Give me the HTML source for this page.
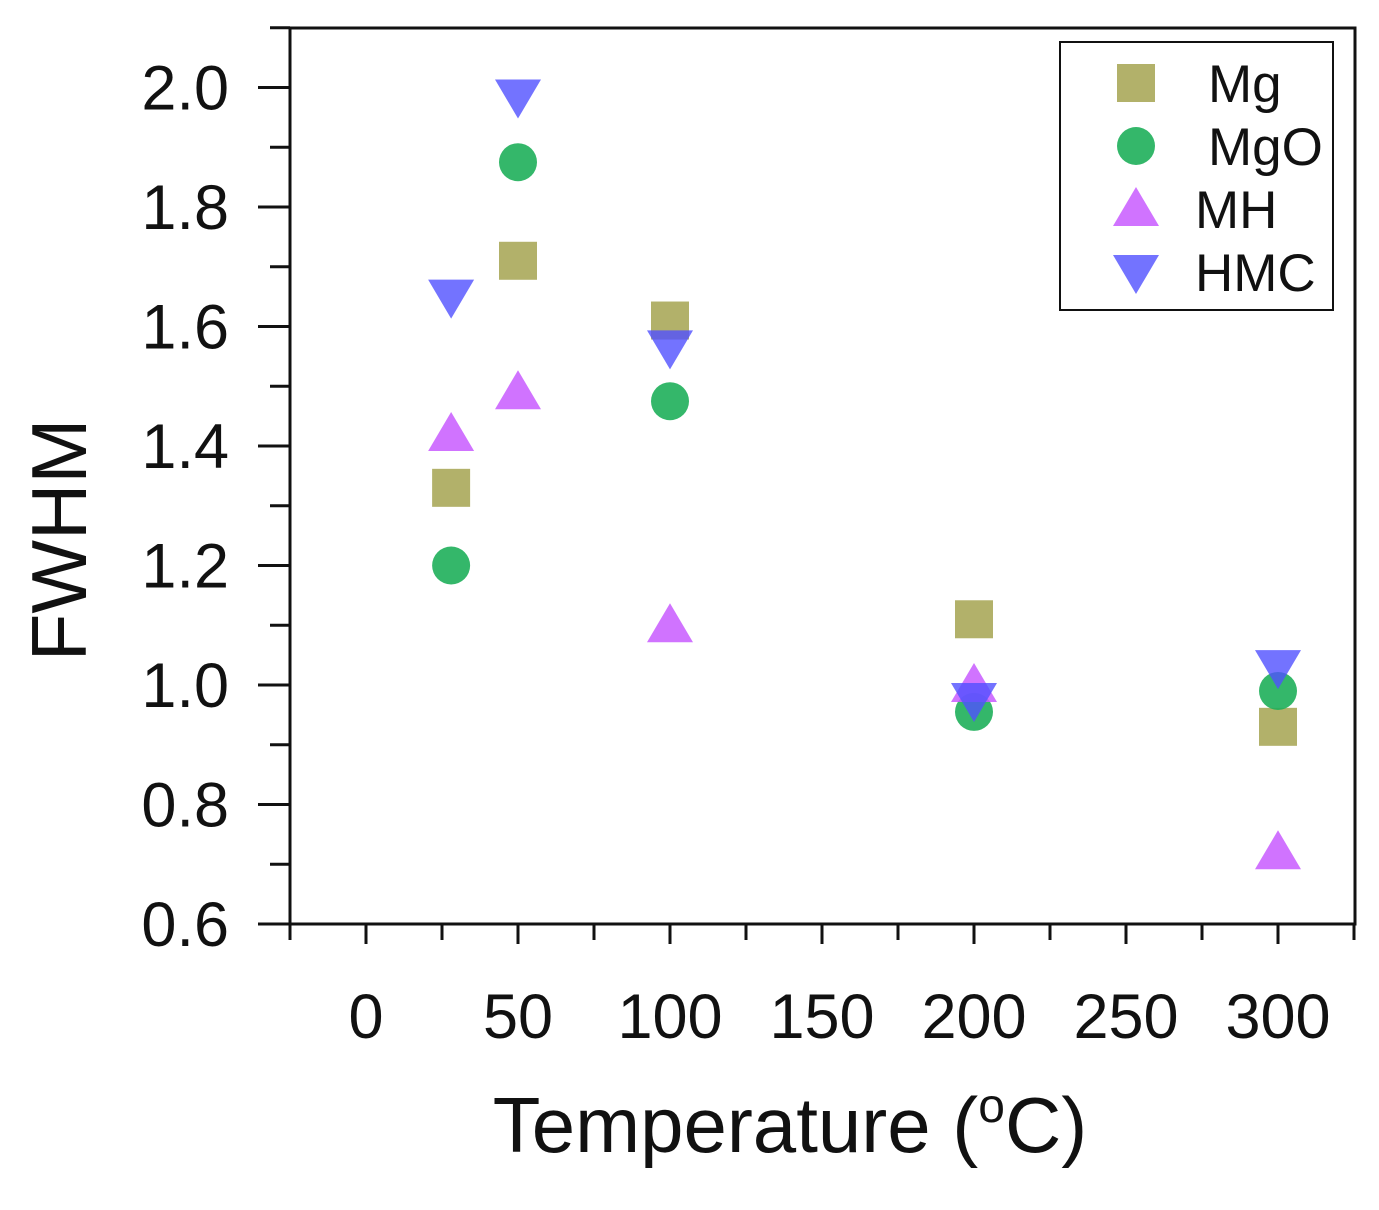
<!DOCTYPE html>
<html><head><meta charset="utf-8"><style>
html,body{margin:0;padding:0;background:#fff;}
svg text{font-family:"Liberation Sans",sans-serif;fill:#111;}
</style></head><body>
<svg id="chart" width="1379" height="1205" viewBox="0 0 1379 1205" xmlns="http://www.w3.org/2000/svg">
<g id="axes"></g><g id="marks"></g><g id="legend"></g>
</svg>
<script>
const temps=[28,50,100,200,300];
const mgVals=[1.33,1.71,1.61,1.11,0.93];
const mgoVals=[1.20,1.875,1.475,0.955,0.99];
const mhVals=[1.42,1.49,1.10,1.00,0.72];
const hmcVals=[1.65,1.985,1.565,0.975,1.03];
const xTicks=[0,50,100,150,200,250,300];
const yTicks=["0.6","0.8","1.0","1.2","1.4","1.6","1.8","2.0"];
const seriesNames=["Mg","MgO","MH","HMC"];

const NS="http://www.w3.org/2000/svg";
const X=v=>366+(v-0)*3.04;
const Y=v=>924-(v-0.6)*597.5;
function mk(tag,attrs,parent){const e=document.createElementNS(NS,tag);for(const k in attrs)e.setAttribute(k,attrs[k]);parent.appendChild(e);return e;}
const axes=document.getElementById('axes'),marks=document.getElementById('marks'),legend=document.getElementById('legend');
const frame=mk('rect',{x:290,y:28,width:1065,height:896,fill:'none',stroke:'#111','stroke-width':3},axes);


for(let v=-25;v<=325;v+=25){
  const major=v%50===0;
  const t=mk('line',{x1:X(v),x2:X(v),y1:924,y2:major?944:940,stroke:'#111','stroke-width':3},axes);
  
  
}
xTicks.forEach(v=>{
  const t=mk('text',{x:X(v),y:1038,'font-size':63,'text-anchor':'middle'},axes);t.textContent=v;
  
  
});
for(let i=0;i<=15;i++){
  const v=0.6+i*0.1;
  const major=i%2===0;
  const t=mk('line',{x1:major?258:270,x2:290,y1:Y(v),y2:Y(v),stroke:'#111','stroke-width':3},axes);
  
  
}
yTicks.forEach(s=>{
  const t=mk('text',{x:229,y:Y(parseFloat(s))+22,'font-size':63,'text-anchor':'end'},axes);t.textContent=s;
  
  
});
const xt=mk('text',{x:790,y:1152,'font-size':78,'text-anchor':'middle'},axes);
xt.innerHTML='Temperature (<tspan font-size="48" dy="-30">o</tspan><tspan dy="30">C)</tspan>';


const yt=mk('text',{x:0,y:0,'font-size':78,'text-anchor':'middle',transform:'translate(86,540) rotate(-90)'},axes);yt.textContent='FWHM';



function square(cx,cy,p,fill){return mk('rect',{x:cx-19,y:cy-19,width:38,height:38,fill:fill},p);}
function circle(cx,cy,p,fill){return mk('circle',{cx:cx,cy:cy,r:19,fill:fill},p);}
function up(cx,cy,p,fill){return mk('polygon',{points:`${cx},${cy-22} ${cx+23},${cy+17} ${cx-23},${cy+17}`,fill:fill},p);}
function down(cx,cy,p,fill){return mk('polygon',{points:`${cx},${cy+22} ${cx+23},${cy-17} ${cx-23},${cy-17}`,fill:fill},p);}
const series=[[mgVals,square,'rgba(170,168,90,0.9)','mg'],[mgoVals,circle,'rgba(30,175,90,0.9)','mgo'],[mhVals,up,'rgba(200,90,255,0.85)','mh'],[hmcVals,down,'rgba(80,80,255,0.8)','hmc']];
series.forEach(([vals,fn,col,nm])=>{
  vals.forEach((v,i)=>{
    const e=fn(X(temps[i]),Y(v),marks,col);
    
    
  });
});
const lb=mk('rect',{x:1060,y:42,width:273,height:268,fill:'#fff',stroke:'#111','stroke-width':2},legend);


series.forEach(([vals,fn,col,nm],i)=>{
  const cy=83+i*63;
  const m=fn(1136,cy,legend,col);
  
  
  const t=mk('text',{x:i<2?1208:1195,y:cy+19,'font-size':53},legend);t.textContent=seriesNames[i];
  
  
});
</script>
</body></html>
